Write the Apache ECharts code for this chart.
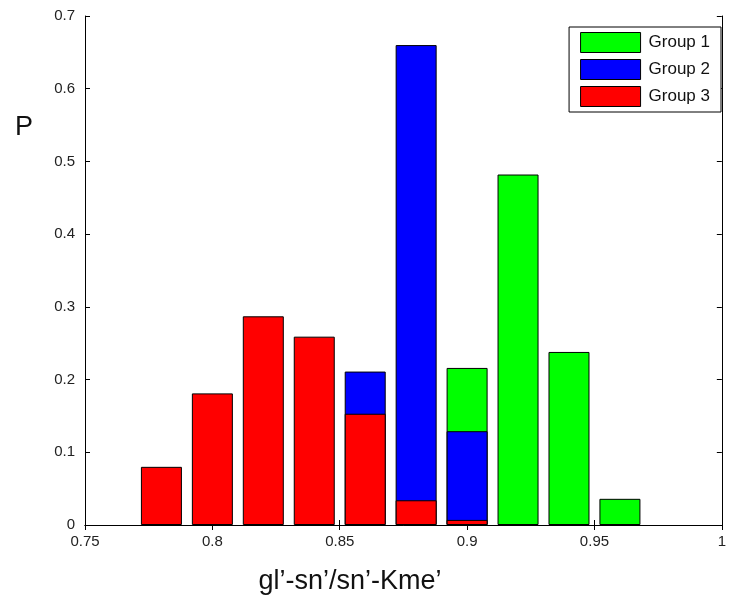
<!DOCTYPE html>
<html><head><meta charset="utf-8">
<script src="https://cdn.jsdelivr.net/npm/echarts@6/dist/echarts.min.js"></script>
<style>html,body{margin:0;padding:0;background:#fff}#c{width:729px;height:599px}</style>
</head><body><div id="c"></div>
<script>
const binCenters = [0.78, 0.80, 0.82, 0.84, 0.86, 0.88, 0.90, 0.92, 0.94, 0.96];
const group1 = [null, null, null, null, null, null, 0.216, 0.482, 0.238, 0.036];
const group2 = [null, null, null, null, 0.211, 0.660, 0.129, null, null, null];
const group3 = [0.080, 0.181, 0.287, 0.259, 0.153, 0.034, 0.007, null, null, null];
const seriesNames = ['Group 1', 'Group 2', 'Group 3'];
const colors = ['#00ff00', '#0000ff', '#ff0000'];
const xTitle = 'gl\u2019-sn\u2019/sn\u2019-Kme\u2019';
const yTitle = 'P';

function pairs(vals){ return binCenters.map((x,i)=> vals[i]==null ? null : [x, vals[i]]).filter(d=>d); }
const groups = [group1, group2, group3];
const font = 'Liberation Sans, Arial, sans-serif';
const chart = echarts.init(document.getElementById('c'));
const tickStyle = {inside:true, length:5, lineStyle:{color:'#000', width:1}};
chart.setOption({
  animation:false,
  grid:{left:85, right:2, top:16, bottom:74},
  legend:{
    orient:'vertical', right:8, top:27, itemWidth:60, itemHeight:20, itemGap:6, icon:'rect',
    padding:[5,11,5,11], borderColor:'#000', borderWidth:1, backgroundColor:'#fff',
    textStyle:{fontFamily:font, fontSize:17, color:'#111', padding:[0,0,0,3]},
    data: seriesNames.map((n,i)=>({name:n, itemStyle:{color:colors[i], borderColor:'#000', borderWidth:1}}))
  },
  graphic:[
    {type:'text', x:350, y:582, style:{text:xTitle, font:'27px '+font, fill:'#111', textAlign:'center', textVerticalAlign:'middle'}},
    {type:'text', x:24, y:128, style:{text:yTitle, font:'27px '+font, fill:'#111', textAlign:'center', textVerticalAlign:'middle'}}
  ],
  xAxis:[{
    type:'value', min:0.75, max:1, interval:0.05, position:'bottom',
    axisLine:{lineStyle:{color:'#000'}}, axisTick:tickStyle, splitLine:{show:false},
    axisLabel:{fontFamily:font, fontSize:15, color:'#222', margin:9,
      formatter:v=>{const s=+v.toFixed(2); return s===1?'1':String(s);}}
  },{
    type:'value', min:0.75, max:1, interval:0.05, position:'top',
    axisLine:{lineStyle:{color:'#000'}}, axisTick:tickStyle, axisLabel:{show:false}, splitLine:{show:false}
  }],
  yAxis:[{
    type:'value', min:0, max:0.7, interval:0.1,
    axisLine:{show:true, lineStyle:{color:'#000'}}, axisTick:tickStyle, splitLine:{show:false},
    axisLabel:{fontFamily:font, fontSize:15, color:'#222', margin:10,
      formatter:v=>{const s=+v.toFixed(1); return String(s);}}
  },{
    type:'value', min:0, max:0.7, interval:0.1, position:'right',
    axisLine:{show:true, lineStyle:{color:'#000'}}, axisTick:tickStyle, axisLabel:{show:false}, splitLine:{show:false}
  }],
  series: groups.map((g,i)=>({
    type:'bar', name:seriesNames[i], data:pairs(g), barWidth:41, barGap:'-100%',
    itemStyle:{color:colors[i], borderColor:'#000', borderWidth:1}
  }))
});
</script></body></html>
